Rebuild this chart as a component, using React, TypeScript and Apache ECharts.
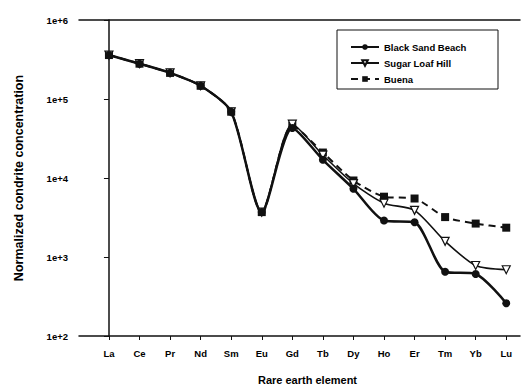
import React, { useEffect, useRef } from "react";
import * as echarts from "echarts";

const elements = ["La", "Ce", "Pr", "Nd", "Sm", "Eu", "Gd", "Tb", "Dy", "Ho", "Er", "Tm", "Yb", "Lu"];
const blackSandBeach = [360000, 280000, 214000, 147000, 69000, 3700, 43000, 17000, 7300, 2900, 2750, 650, 610, 260];
const sugarLoafHill = [360000, 280000, 214000, 147000, 69000, 3700, 48000, 19500, 8500, 4800, 3900, 1580, 780, 690];
const buena = [360000, 280000, 214000, 147000, 69000, 3700, 46000, 21000, 9300, 5800, 5500, 3200, 2650, 2350];
const yTicks = [100, 1000, 10000, 100000, 1000000];

const FONT = "'Liberation Sans', Arial, sans-serif";

export default function App() {
  const ref = useRef<HTMLDivElement>(null);
  useEffect(() => {
    if (!ref.current) return;
    const chart = echarts.init(ref.current, undefined, { renderer: "svg" });
    const toPairs = (arr: number[]) => arr.map((v, i) => [i, v]);
    const idx = elements.map((_, i) => i);
    const base = {
      type: "line",
      smooth: 0.25,
      symbolSize: 8,
      xAxisIndex: 0,
    };
    chart.setOption({
      animation: false,
      backgroundColor: "#fff",
      textStyle: { fontFamily: FONT },
      grid: { left: 79, top: 20, right: 6, bottom: 53 },
      xAxis: [
        {
          type: "value",
          min: -0.98,
          max: 13.45,
          splitLine: { show: false },
          axisLine: { show: true, lineStyle: { color: "#111", width: 1.5 } },
          axisTick: { show: true, customValues: idx, length: 4, lineStyle: { color: "#111", width: 1 } },
          axisLabel: {
            customValues: idx,
            formatter: (v: number) => elements[Math.round(v)] ?? "",
            color: "#000",
            fontWeight: "bold",
            fontSize: 9.5,
            fontFamily: FONT,
            margin: 12,
          },
          name: "Rare earth element",
          nameLocation: "middle",
          nameGap: 38,
          nameTextStyle: { color: "#000", fontWeight: "bold", fontSize: 11, fontFamily: FONT, padding: [0, 0, 0, 16] },
        },
        {
          type: "value",
          position: "top",
          min: -0.98,
          max: 13.45,
          splitLine: { show: false },
          axisLine: { show: true, onZero: false, lineStyle: { color: "#111", width: 1.5 } },
          axisTick: { show: false },
          axisLabel: { show: false },
        },
      ],
      yAxis: {
        type: "log",
        logBase: 10,
        min: 100,
        max: 1000000,
        splitLine: { show: false },
        minorTick: { show: false },
        axisLine: { show: true, lineStyle: { color: "#111", width: 1.5 } },
        axisTick: { show: true, length: 5, lineStyle: { color: "#111", width: 1 } },
        axisLabel: {
          formatter: (v: number) => (yTicks.includes(Math.round(v)) ? "1e+" + Math.round(Math.log10(v)) : ""),
          color: "#000",
          fontWeight: "bold",
          fontSize: 9.5,
          fontFamily: FONT,
          margin: 11,
        },
        name: "Normalized condrite concentration",
        nameLocation: "middle",
        nameGap: 54,
        nameTextStyle: { color: "#000", fontWeight: "bold", fontSize: 12.5, fontFamily: FONT },
      },
      legend: {
        left: 345,
        top: 37,
        orient: "vertical",
        itemGap: 6,
        itemWidth: 28,
        itemHeight: 7,
        textStyle: { color: "#000", fontWeight: "bold", fontSize: 9.5, fontFamily: FONT },
        data: ["Black Sand Beach", "Sugar Loaf Hill", "Buena"],
      },
      graphic: [
        {
          type: "rect",
          shape: { x: 337, y: 30, width: 161, height: 59 },
          style: { fill: "none", stroke: "#111", lineWidth: 1 },
          z: 0,
        },
      ],
      series: [
        {
          ...base,
          name: "Buena",
          data: toPairs(buena),
          symbol: "rect",
          symbolSize: 8,
          z: 2,
          lineStyle: { color: "#111", width: 2, type: [7, 5] },
          itemStyle: { color: "#111" },
        },
        {
          ...base,
          name: "Sugar Loaf Hill",
          data: toPairs(sugarLoafHill),
          symbol: "path://M0,0L10,0L5,9Z",
          symbolSize: [8, 8],
          z: 3,
          lineStyle: { color: "#111", width: 1.6 },
          itemStyle: { color: "#fff", borderColor: "#111", borderWidth: 1.2 },
        },
        {
          ...base,
          name: "Black Sand Beach",
          data: toPairs(blackSandBeach),
          symbol: "circle",
          symbolSize: 8,
          z: 4,
          lineStyle: { color: "#111", width: 2.5 },
          itemStyle: { color: "#111" },
        },
      ],
    });
    return () => chart.dispose();
  }, []);
  return <div ref={ref} style={{ width: 526, height: 390, position: "absolute", left: 0, top: 0 }} />;
}
